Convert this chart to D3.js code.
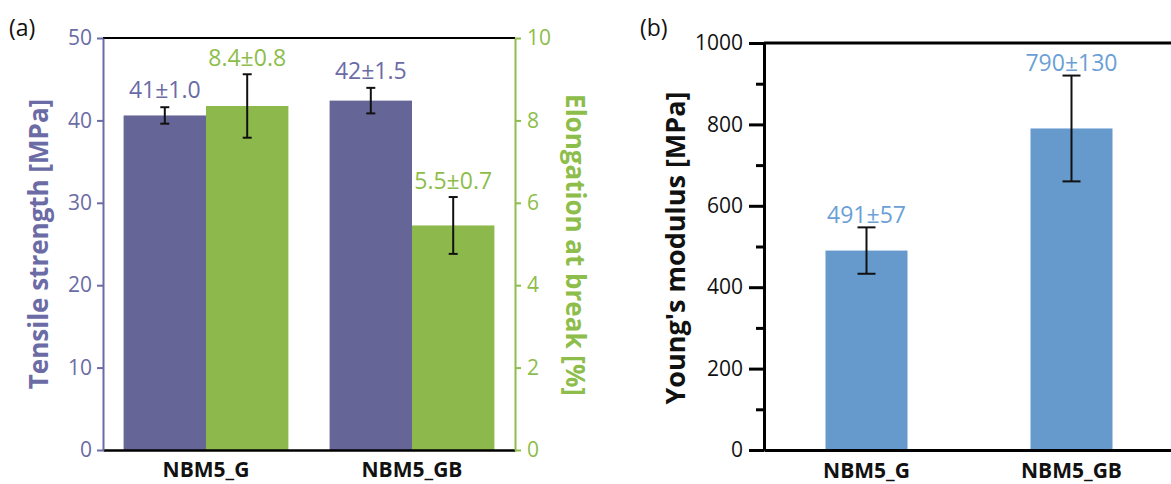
<!DOCTYPE html>
<html>
<head>
<meta charset="utf-8">
<script src="https://cdn.jsdelivr.net/npm/d3@7"></script>
<style>
    body { margin: 0; background: #fff; }
    svg { display: block; font-family: "Open Sans", "DejaVu Sans", sans-serif; }
    svg text { font-family: "Open Sans", "DejaVu Sans", sans-serif; }
</style>
</head>
<body>
<svg id="chart" width="1171" height="484"></svg>
<script>
// data
var categories = ["NBM5_G", "NBM5_GB"];

var tensileMean = [40.6, 42.4];
var tensileErr = [1.0, 1.55];
var tensileLabels = ["41\u00b11.0", "42\u00b11.5"];

var elongMean = [8.35, 5.45];
var elongErr = [0.77, 0.69];
var elongLabels = ["8.4\u00b10.8", "5.5\u00b10.7"];

var modulusMean = [490, 790];
var modulusErr = [57, 130];
var modulusLabels = ["491\u00b157", "790\u00b1130"];

var tensileTicks = [0, 10, 20, 30, 40, 50];
var elongTicks = [0, 2, 4, 6, 8, 10];
var modulusTicks = [0, 200, 400, 600, 800, 1000];
var modulusMinorTicks = [100, 300, 500, 700, 900];

var purple = "#656598", purpleText = "#6b6ba6";
var green = "#8db84b", greenText = "#8dbd4a";
var blue = "#6699cc", blueText = "#6b9fd5";

var svg = d3.select("#chart");

function styleAxis(g, color, width, fontSize) {
    g.attr("font-family", null);
    g.select(".domain").attr("stroke", color).attr("stroke-width", width);
    g.selectAll(".tick line").attr("stroke", color).attr("stroke-width", width);
    g.selectAll(".tick text").attr("fill", color === "#000" ? "#111" : color)
        .style("font-size", fontSize + "px");
}

function errorBars(g, xs, means, errs, y, capHalf, labels, color, gap) {
    xs.forEach(function(cx, i) {
        var top = y(means[i] + errs[i]), bot = y(means[i] - errs[i]);
        g.append("line").attr("x1", cx).attr("x2", cx).attr("y1", top).attr("y2", bot)
            .attr("stroke", "#111").attr("stroke-width", 2);
        [top, bot].forEach(function(yy) {
            g.append("line").attr("x1", cx - capHalf).attr("x2", cx + capHalf)
                .attr("y1", yy).attr("y2", yy)
                .attr("stroke", "#111").attr("stroke-width", 2);
        });
        g.append("text").attr("x", cx).attr("y", top - gap)
            .attr("text-anchor", "middle").attr("fill", color)
            .style("font-size", "23px").text(labels[i]);
    });
}

// ---------- panel (a) ----------
(function() {
    var left = 103, right = 515, top = 38, bottom = 450;

    var x = d3.scaleBand().domain(categories).range([left, right])
        .paddingInner(0.2).paddingOuter(0.1);
    var xSub = d3.scaleBand().domain(["tensile", "elong"]).range([0, x.bandwidth()]);
    var yT = d3.scaleLinear().domain([0, 50]).range([bottom, top]);
    var yE = d3.scaleLinear().domain([0, 10]).range([bottom, top]);

    var g = svg.append("g");

    g.selectAll("rect.tensile").data(tensileMean).enter().append("rect")
        .attr("class", "tensile")
        .attr("x", function(d, i) { return x(categories[i]) + xSub("tensile"); })
        .attr("width", xSub.bandwidth())
        .attr("y", function(d) { return yT(d); })
        .attr("height", function(d) { return yT(0) - yT(d); })
        .attr("fill", purple);

    g.selectAll("rect.elong").data(elongMean).enter().append("rect")
        .attr("class", "elong")
        .attr("x", function(d, i) { return x(categories[i]) + xSub("elong"); })
        .attr("width", xSub.bandwidth())
        .attr("y", function(d) { return yE(d); })
        .attr("height", function(d) { return yE(0) - yE(d); })
        .attr("fill", green);

    var tx = categories.map(function(c) { return x(c) + xSub("tensile") + xSub.bandwidth() / 2; });
    var ex = categories.map(function(c) { return x(c) + xSub("elong") + xSub.bandwidth() / 2; });
    errorBars(g, tx, tensileMean, tensileErr, yT, 4.5, tensileLabels, purpleText, 9);
    errorBars(g, ex, elongMean, elongErr, yE, 4.5, elongLabels, greenText, 8);

    // frame
    g.append("line").attr("x1", left).attr("x2", right).attr("y1", top).attr("y2", top)
        .attr("stroke", "#000").attr("stroke-width", 2);

    var ax = g.append("g").attr("transform", "translate(0," + bottom + ")")
        .call(d3.axisBottom(x).tickSize(0).tickPadding(12).tickSizeOuter(0));
    ax.attr("font-family", null);
    ax.select(".domain").attr("stroke", "#000").attr("stroke-width", 2.5);
    ax.selectAll(".tick text").attr("fill", "#111")
        .style("font-size", "21px").style("font-weight", "bold");

    var ayl = g.append("g").attr("transform", "translate(" + left + ",0)")
        .call(d3.axisLeft(yT).tickValues(tensileTicks).tickSize(6).tickPadding(5).tickSizeOuter(0));
    styleAxis(ayl, purpleText, 2, 21);

    var ayr = g.append("g").attr("transform", "translate(" + right + ",0)")
        .call(d3.axisRight(yE).tickValues(elongTicks).tickSize(6).tickPadding(6).tickSizeOuter(0));
    styleAxis(ayr, greenText, 2, 21);

    g.append("text")
        .attr("transform", "translate(39,244) rotate(-90)")
        .attr("text-anchor", "middle").attr("dy", "0.35em")
        .attr("fill", purpleText).style("font-size", "26px").style("font-weight", "bold")
        .text("Tensile strength [MPa]");

    g.append("text")
        .attr("transform", "translate(575,245) rotate(90)")
        .attr("text-anchor", "middle").attr("dy", "0.35em")
        .attr("fill", greenText).style("font-size", "26px").style("font-weight", "bold")
        .text("Elongation at break [%]");

    g.append("text").attr("x", 9).attr("y", 36)
        .attr("fill", "#111").style("font-size", "23px").text("(a)");
})();

// ---------- panel (b) ----------
(function() {
    var left = 764, right = 1174, top = 43, bottom = 450;

    var x = d3.scaleBand().domain(categories).range([left, right])
        .paddingInner(0.6).paddingOuter(0.3);
    var y = d3.scaleLinear().domain([0, 1000]).range([bottom, top]);

    var g = svg.append("g");

    g.selectAll("rect.modulus").data(modulusMean).enter().append("rect")
        .attr("class", "modulus")
        .attr("x", function(d, i) { return x(categories[i]); })
        .attr("width", x.bandwidth())
        .attr("y", function(d) { return y(d); })
        .attr("height", function(d) { return y(0) - y(d); })
        .attr("fill", blue);

    var cx = categories.map(function(c) { return x(c) + x.bandwidth() / 2; });
    errorBars(g, cx, modulusMean, modulusErr, y, 9, modulusLabels, blueText, 4.5);

    g.append("line").attr("x1", left).attr("x2", 1171).attr("y1", top).attr("y2", top)
        .attr("stroke", "#000").attr("stroke-width", 3);

    var ax = g.append("g").attr("transform", "translate(0," + bottom + ")")
        .call(d3.axisBottom(x).tickSize(0).tickPadding(13).tickSizeOuter(0));
    ax.attr("font-family", null);
    ax.select(".domain").attr("stroke", "#000").attr("stroke-width", 3);
    ax.selectAll(".tick text").attr("fill", "#111")
        .style("font-size", "21px").style("font-weight", "bold");

    var minor = g.append("g").attr("transform", "translate(" + left + ",0)")
        .call(d3.axisLeft(y).tickValues(modulusMinorTicks).tickSize(8).tickFormat("").tickSizeOuter(0));
    styleAxis(minor, "#000", 3, 21);

    var ay = g.append("g").attr("transform", "translate(" + left + ",0)")
        .call(d3.axisLeft(y).tickValues(modulusTicks).tickSize(15).tickPadding(6)
            .tickFormat(d3.format("d")).tickSizeOuter(0));
    styleAxis(ay, "#000", 3, 21);

    g.append("text")
        .attr("transform", "translate(676,248) rotate(-90)")
        .attr("text-anchor", "middle").attr("dy", "0.35em")
        .attr("fill", "#111").style("font-size", "27px").style("font-weight", "bold")
        .text("Young's modulus [MPa]");

    g.append("text").attr("x", 640).attr("y", 36)
        .attr("fill", "#111").style("font-size", "23px").text("(b)");
})();
</script>
</body>
</html>
